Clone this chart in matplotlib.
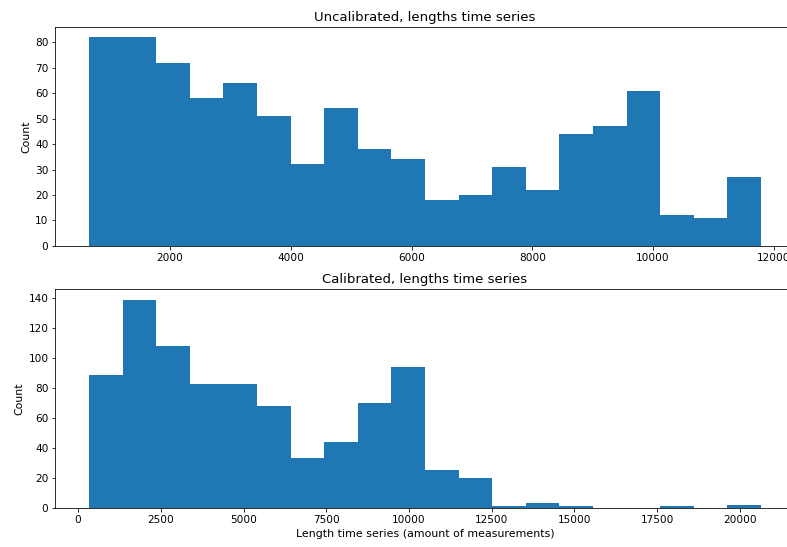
import numpy as np
import matplotlib.pyplot as plt

# histogram counts (20 bins each)
uncal_counts = [82, 82, 72, 58, 64, 51, 32, 54, 38, 34,
                18, 20, 31, 22, 44, 47, 61, 12, 11, 27]
uncal_range = (661, 11785)

cal_counts = [89, 139, 108, 83, 83, 68, 33, 44, 70, 94,
              25, 20, 1, 3, 1, 0, 0, 1, 0, 2]
cal_range = (332, 20633)

n_bins = 20

plt.rcParams['xtick.labelsize'] = 10.5
plt.rcParams['ytick.labelsize'] = 10.5
plt.rcParams['axes.labelsize'] = 11

fig = plt.figure(figsize=(787 / 72, 547 / 72), dpi=72)
ax1 = fig.add_axes([0.0705, 0.5505, 0.939, 0.4005])
ax2 = fig.add_axes([0.0705, 0.0718, 0.939, 0.3990])

edges1 = np.linspace(uncal_range[0], uncal_range[1], n_bins + 1)
ax1.hist(edges1[:-1], bins=edges1, weights=uncal_counts)
ax1.set_ylabel('Count')
ax1.set_title('Uncalibrated, lengths time series', fontsize=13.2)

edges2 = np.linspace(cal_range[0], cal_range[1], n_bins + 1)
ax2.hist(edges2[:-1], bins=edges2, weights=cal_counts)
ax2.set_ylabel('Count')
ax2.set_xlabel('Length time series (amount of measurements)')
ax2.set_title('Calibrated, lengths time series', fontsize=13.2)

fig.savefig('out.png', dpi=72)
